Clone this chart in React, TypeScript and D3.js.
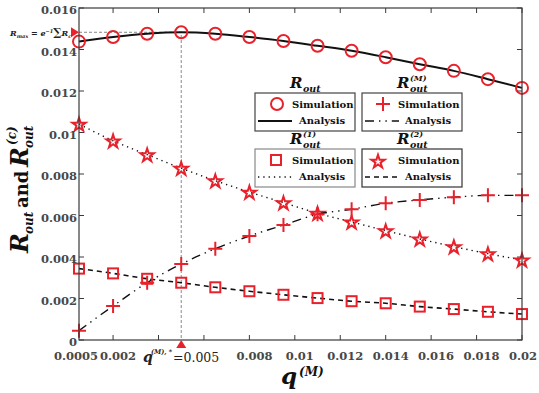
import * as d3 from 'd3';

const qValues = [0.0005, 0.002, 0.0035, 0.005, 0.0065, 0.008, 0.0095, 0.011, 0.0125, 0.014, 0.0155, 0.017, 0.0185, 0.02];
const rOut = [0.01438, 0.0146, 0.01476, 0.01483, 0.01476, 0.0146, 0.01441, 0.01418, 0.01394, 0.01363, 0.01329, 0.01297, 0.01257, 0.01215];
const rOut2 = [0.01041, 0.0096, 0.00893, 0.00828, 0.00768, 0.00713, 0.00662, 0.00611, 0.00569, 0.00527, 0.00487, 0.0045, 0.00416, 0.00386];
const rOutM = [0.00045, 0.00164, 0.00276, 0.00366, 0.0044, 0.00501, 0.00554, 0.00606, 0.0063, 0.00659, 0.00675, 0.00688, 0.00697, 0.00697];
const rOut1 = [0.00344, 0.00321, 0.00295, 0.00276, 0.00254, 0.00235, 0.00218, 0.00202, 0.00187, 0.00177, 0.00161, 0.00149, 0.00136, 0.00125];

const xTicks = [0.002, 0.004, 0.006, 0.008, 0.01, 0.012, 0.014, 0.016, 0.018, 0.02];
const xTickLabels = ['0.0005', '0.002', '0.008', '0.01', '0.012', '0.014', '0.016', '0.018', '0.02'];
const yTicks = [0, 0.002, 0.004, 0.006, 0.008, 0.01, 0.012, 0.014, 0.016];
const yTickLabels = ['0', '0.002', '0.004', '0.006', '0.008', '0.01', '0.012', '0.014', '0.016'];
const qStar = 0.005;
const rMax = 0.01483;

const W = 539;
const H = 393;
const RED = '#e8212b';
const AX = '#3a3a3a';
const FONT = '"DejaVu Serif", serif';
const DASHDOT = '9 5 1.4 5 1.4 5';
const DOTTED = '1.3 4';
const DASHED = '5 4';

const x = d3.scaleLinear().domain([0.0005, 0.02]).range([79, 522]);
const y = d3.scaleLinear().domain([0, 0.016]).range([340, 8]);

function linePath(vals: number[]) {
  const gen = d3.line<number>()
    .x((_, i) => x(qValues[i]))
    .y(d => y(d))
    .curve(d3.curveMonotoneX);
  return gen(vals) || '';
}

const star = d3.symbol().type(d3.symbolStar).size(55)() || '';

function Marker({ kind, cx, cy }: { kind: string; cx: number; cy: number }) {
  const common = { fill: 'none', stroke: RED, strokeWidth: 2 };
  if (kind === 'circle') return <circle cx={cx} cy={cy} r={6} {...common} />;
  if (kind === 'square') return <rect x={cx - 5} y={cy - 5} width={10} height={10} {...common} />;
  if (kind === 'plus') return <path d={`M${cx - 7},${cy}H${cx + 7}M${cx},${cy - 7}V${cy + 7}`} {...common} />;
  return <path d={star} transform={`translate(${cx},${cy + 0.8})`} {...common} />;
}

function RLabel({ x0, y0, sup }: { x0: number; y0: number; sup?: string }) {
  return (
    <g fontFamily={FONT} fontWeight="bold" fill="#111">
      <text x={x0} y={y0} fontSize={15} fontStyle="italic">R</text>
      <text x={x0 + 13} y={y0 + 4} fontSize={9.5} fontStyle="italic">out</text>
      {sup && <text x={x0 + 13} y={y0 - 7} fontSize={8} fontStyle="italic">{sup}</text>}
    </g>
  );
}

const series = [
  { vals: rOut, kind: 'circle', dash: '', width: 2 },
  { vals: rOut2, kind: 'star', dash: DOTTED, width: 1.4 },
  { vals: rOutM, kind: 'plus', dash: DASHDOT, width: 1.4 },
  { vals: rOut1, kind: 'square', dash: DASHED, width: 1.6 },
];

const legends = [
  { bx: 255, by: 93, border: '#444', title: '', kind: 'circle', dash: '', width: 2, mx: 277, my: 104, tx: 292, ax: 299 },
  { bx: 362, by: 93, border: '#444', title: '(M)', kind: 'plus', dash: DASHDOT, width: 1.4, mx: 383, my: 104, tx: 398, ax: 405 },
  { bx: 255, by: 149, border: '#888', title: '(1)', kind: 'square', dash: DOTTED, width: 1.4, mx: 276, my: 160, tx: 292, ax: 299 },
  { bx: 362, by: 149, border: '#333', title: '(2)', kind: 'star', dash: DASHED, width: 1.6, mx: 378, my: 161, tx: 398, ax: 405 },
];

export default function App() {
  return (
    <div style={{ position: 'absolute', left: 0, top: 0 }}>
      <svg width={W} height={H} style={{ display: 'block', background: '#fff' }}>
        {/* annotation guide lines */}
        <path d={`M${x(0.0005)},${y(rMax)}H${x(qStar)}V${y(0)}`} fill="none" stroke="#888" strokeWidth={1} strokeDasharray="3 2" />

        {/* series */}
        {series.map((s, si) => (
          <g key={si}>
            <path d={linePath(s.vals)} fill="none" stroke="#111" strokeWidth={s.width} strokeDasharray={s.dash || undefined} />
            {s.vals.map((v, i) => <Marker key={i} kind={s.kind} cx={x(qValues[i])} cy={y(v)} />)}
          </g>
        ))}

        {/* frame and ticks */}
        <rect x={x(0.0005)} y={y(0.016)} width={x(0.02) - x(0.0005)} height={y(0) - y(0.016)} fill="none" stroke={AX} strokeWidth={1.2} />
        {xTicks.map(t => (
          <g key={t} stroke={AX}>
            <line x1={x(t)} x2={x(t)} y1={y(0)} y2={y(0) - 5} />
            <line x1={x(t)} x2={x(t)} y1={y(0.016)} y2={y(0.016) + 5} />
          </g>
        ))}
        {yTicks.map(t => (
          <g key={t} stroke={AX}>
            <line x1={x(0.0005)} x2={x(0.0005) + 5} y1={y(t)} y2={y(t)} />
            <line x1={x(0.02)} x2={x(0.02) - 5} y1={y(t)} y2={y(t)} />
          </g>
        ))}
        <g fontFamily={FONT} fontWeight="bold" fontSize={11.5} fill="#484848">
          {xTickLabels.map((l, i) => (
            <text key={l} x={x(+l) + (i === 0 ? -3 : i === xTickLabels.length - 1 ? 1 : 5)} y={360} textAnchor="middle">{l}</text>
          ))}
          {yTicks.map((t, i) => (
            <text key={t} x={x(0.0005) - 2} y={y(t) + 6} textAnchor="end">{yTickLabels[i]}</text>
          ))}
        </g>

        {/* markers on axes */}
        <path d={`M${x(0.0005)},${y(rMax)}l-8,-5v10z`} fill={RED} />
        <path d={`M${x(qStar)},${y(0)}l-5,8h10z`} fill={RED} />
        <g fontFamily={FONT} fontWeight="bold" fontStyle="italic" fill="#222">
          <text x={10} y={36} fontSize={8}>R<tspan fontSize={5} dy={1.5}>max</tspan><tspan dy={-1.5} fontStyle="normal"> = </tspan>e<tspan fontSize={5} dy={-3}>−1</tspan><tspan dy={3} fontSize={11} fontStyle="normal">∑</tspan>R<tspan fontSize={5} dy={1.5}>c</tspan></text>
        </g>
        <g fontFamily={FONT} fill="#222">
          <text x={143} y={362} fontSize={14} fontWeight="bold" fontStyle="italic">q</text>
          <text x={151} y={354} fontSize={6.5} fontWeight="bold" fontStyle="italic">(M), *</text>
          <text x={173} y={362} fontSize={12.5}>=0.005</text>
        </g>

        {/* axis titles */}
        <g fontFamily={FONT} fontWeight="bold" fill="#111">
          <text x={281} y={384} fontSize={23} fontStyle="italic">q</text>
          <text x={299} y={376} fontSize={12} fontStyle="italic">(M)</text>
        </g>
        <g transform="translate(28,253) rotate(-90)" fontFamily={FONT} fontWeight="bold" fill="#111">
          <text x={0} y={0} fontSize={24} fontStyle="italic">R</text>
          <text x={19} y={5} fontSize={12} fontStyle="italic">out</text>
          <text x={45} y={0} fontSize={18}>and</text>
          <text x={86} y={0} fontSize={24} fontStyle="italic">R</text>
          <text x={105} y={5} fontSize={12} fontStyle="italic">out</text>
          <text x={108} y={-12} fontSize={12} fontStyle="italic">(c)</text>
        </g>

        {/* legends */}
        {legends.map((l, i) => (
          <g key={i}>
            <RLabel x0={l.bx + 35} y0={l.by - 5} sup={l.title || undefined} />
            <rect x={l.bx} y={l.by} width={100} height={38} fill="#fff" stroke={l.border} strokeWidth={1.2} />
            <Marker kind={l.kind} cx={l.mx} cy={l.my} />
            <line x1={l.bx + 3} x2={l.bx + 37} y1={l.by + 28} y2={l.by + 28} stroke="#111" strokeWidth={l.width} strokeDasharray={l.dash || undefined} />
            <text x={l.tx} y={l.by + 15} fontFamily={FONT} fontWeight="bold" fontSize={10} fill="#111">Simulation</text>
            <text x={l.ax} y={l.by + 31} fontFamily={FONT} fontWeight="bold" fontSize={10} fill="#111">Analysis</text>
          </g>
        ))}
      </svg>
    </div>
  );
}
